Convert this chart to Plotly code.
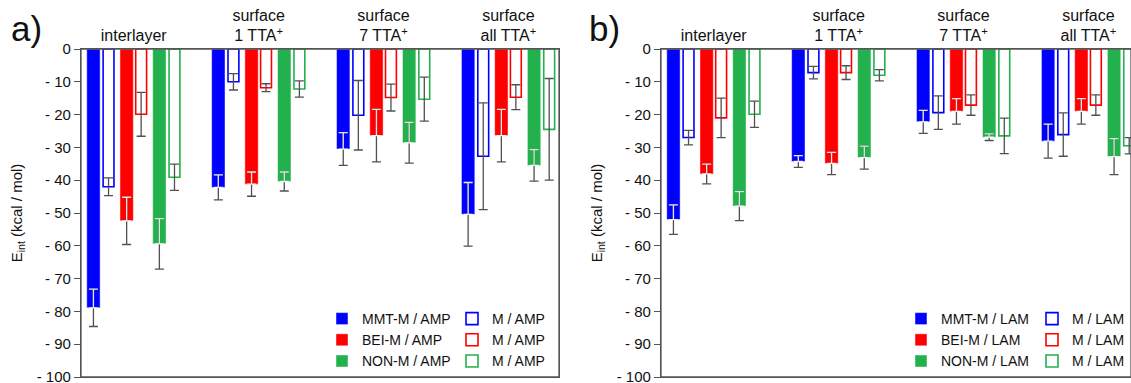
import plotly.graph_objects as go

# ---------------- data ----------------
groups = ["interlayer",
          "surface<br>1 TTA<sup>+</sup>",
          "surface<br>7 TTA<sup>+</sup>",
          "surface<br>all TTA<sup>+</sup>"]

y_tickvals = [0, -10, -20, -30, -40, -50, -60, -70, -80, -90, -100]
y_ticktext = ["0", "- 10", "- 20", "- 30", "- 40", "- 50", "- 60", "- 70", "- 80", "- 90", "- 100"]

# panel a) AMP
amp_names = ["MMT-M / AMP", "M / AMP", "BEI-M / AMP", "M / AMP", "NON-M / AMP", "M / AMP"]
mmt_amp = [-78.9, -42.2, -30.5, -50.4]
mmt_amp_err = [5.7, 3.8, 5.0, 9.7]
mmt_amp_m = [-42.0, -10.0, -20.2, -32.7]
mmt_amp_m_err = [2.7, 2.5, 10.6, 16.3]
bei_amp = [-52.4, -41.2, -26.4, -26.4]
bei_amp_err = [7.2, 3.7, 8.0, 8.0]
bei_amp_m = [-19.9, -11.8, -14.8, -14.7]
bei_amp_m_err = [6.7, 1.2, 4.1, 3.8]
non_amp = [-59.4, -40.4, -28.6, -35.5]
non_amp_err = [7.7, 2.9, 6.2, 4.8]
non_amp_m = [-39.1, -12.2, -15.3, -24.5]
non_amp_m_err = [4.0, 2.5, 6.7, 15.5]

# panel b) LAM
lam_names = ["MMT-M / LAM", "M / LAM", "BEI-M / LAM", "M / LAM", "NON-M / LAM", "M / LAM"]
mmt_lam = [-52.0, -34.3, -22.2, -28.1]
mmt_lam_err = [4.5, 1.8, 3.5, 5.2]
mmt_lam_m = [-27.0, -7.2, -19.4, -26.1]
mmt_lam_m_err = [2.2, 1.9, 5.1, 6.6]
bei_lam = [-38.1, -34.9, -19.0, -19.0]
bei_lam_err = [3.0, 3.4, 3.9, 3.9]
bei_lam_m = [-21.0, -7.2, -17.1, -17.1]
bei_lam_m_err = [6.0, 2.1, 3.1, 3.1]
non_lam = [-47.9, -33.1, -26.9, -32.8]
non_lam_err = [4.4, 3.5, 1.0, 5.5]
non_lam_m = [-19.9, -8.0, -26.5, -29.5]
non_lam_m_err = [4.0, 1.7, 5.4, 2.5]

# ---------------- style / layout ----------------
W, H = 1131, 383
COLORS = ["#0000FF", "#FF0000", "#22B14C"]
FILL_W, OPEN_W = 0.107, 0.087
FILL_OFF = [-0.376, -0.110, 0.152]
OPEN_OFF = [-0.245, 0.016, 0.283]
ERR_COLOR = "#505050"
AX_COLOR = "#555555"
FONT = "Liberation Sans, Arial, sans-serif"

fig = go.Figure()


def add_panel(series, names, xa, ya, leg_fill, leg_open):
    overlays = []
    for k in range(3):
        vals, errs, mvals, merrs = series[k]
        c = COLORS[k]
        fig.add_trace(go.Bar(
            x=groups, y=vals, name=names[2 * k], xaxis=xa, yaxis=ya,
            offset=FILL_OFF[k], width=FILL_W, legend=leg_fill,
            marker=dict(color=c, line=dict(color="rgba(255,255,255,0.45)", width=1)),
            error_y=dict(type="data", array=errs, visible=True, color=ERR_COLOR,
                         thickness=1.3, width=4.5)))
        fig.add_trace(go.Bar(
            x=groups, y=mvals, name=names[2 * k + 1], xaxis=xa, yaxis=ya,
            offset=OPEN_OFF[k], width=OPEN_W, legend=leg_open,
            marker=dict(color="rgba(255,255,255,0)", line=dict(color=c, width=1.6)),
            error_y=dict(type="data", array=merrs, visible=True, color=ERR_COLOR,
                         thickness=1.3, width=4.5)))
        overlays.append((vals, errs, k))
    # white part of the error bars inside the filled bars
    for vals, errs, k in overlays:
        fig.add_trace(go.Bar(
            x=groups, y=vals, xaxis=xa, yaxis=ya, showlegend=False, hoverinfo="skip",
            offset=FILL_OFF[k], width=FILL_W,
            marker=dict(color="rgba(0,0,0,0)", line=dict(width=0)),
            error_y=dict(type="data", symmetric=False, array=errs,
                         arrayminus=[0] * len(errs), visible=True,
                         color="rgba(255,255,255,0.85)", thickness=1.3, width=4.5)))


add_panel([(mmt_amp, mmt_amp_err, mmt_amp_m, mmt_amp_m_err),
           (bei_amp, bei_amp_err, bei_amp_m, bei_amp_m_err),
           (non_amp, non_amp_err, non_amp_m, non_amp_m_err)],
          amp_names, "x", "y", "legend", "legend2")
add_panel([(mmt_lam, mmt_lam_err, mmt_lam_m, mmt_lam_m_err),
           (bei_lam, bei_lam_err, bei_lam_m, bei_lam_m_err),
           (non_lam, non_lam_err, non_lam_m, non_lam_m_err)],
          lam_names, "x2", "y2", "legend3", "legend4")

xcommon = dict(type="category", side="top", showline=True, mirror=True,
               linecolor=AX_COLOR, linewidth=1.3, ticks="", showgrid=False,
               zeroline=False, tickfont=dict(size=16, color="#111", family=FONT),
               ticklabelstandoff=0, fixedrange=True)
ycommon = dict(range=[-100, 0], showline=True, mirror=True, linecolor=AX_COLOR,
               linewidth=1.3, ticks="outside", ticklen=6, tickcolor=AX_COLOR,
               tickwidth=1.3, showgrid=False, zeroline=False,
               tickvals=y_tickvals, ticktext=y_ticktext, ticklabeloverflow="allow",
               tickfont=dict(size=15, color="#111", family=FONT),
               title=dict(text="E<sub>int</sub> (kcal / mol)",
                          font=dict(size=15, color="#111", family=FONT), standoff=10))

px_unit = 124.9
x0 = -0.422
fig.update_layout(
    xaxis=dict(domain=[81 / W, 559 / W], range=[x0, x0 + 478 / px_unit], anchor="y", **xcommon),
    xaxis2=dict(domain=[661 / W, 1.0], range=[x0, x0 + 470 / px_unit], anchor="y2", **xcommon),
    yaxis=dict(anchor="x", **ycommon),
    yaxis2=dict(anchor="x2", **ycommon),
)

legfont = dict(size=14, color="#111", family=FONT)
legcommon = dict(font=legfont, bgcolor="rgba(0,0,0,0)", borderwidth=0,
                 xanchor="left", yanchor="top", orientation="v",
                 itemclick=False, itemdoubleclick=False)
ly = (377 - 303) / 328
fig.update_layout(
    legend=dict(x=(364 - 42) / W, y=ly, **legcommon),
    legend2=dict(x=(494 - 42) / W, y=ly, **legcommon),
    legend3=dict(x=(943 - 42) / W, y=ly, **legcommon),
    legend4=dict(x=(1074 - 42) / W, y=ly, **legcommon),
)

frame = dict(type="rect", x0=0, x1=1, y0=0, y1=1, layer="above",
             line=dict(color=AX_COLOR, width=1.3), fillcolor="rgba(0,0,0,0)")

fig.update_layout(
    width=W, height=H, barmode="overlay",
    margin=dict(l=0, r=0, t=49, b=6, autoexpand=False),
    paper_bgcolor="white", plot_bgcolor="white",
    font=dict(family=FONT, color="#111"),
    shapes=[dict(xref="x domain", yref="y domain", **frame),
            dict(xref="x2 domain", yref="y2 domain", **frame)],
    annotations=[
        dict(text="a)", x=27 / W, y=(377 - 29) / 328, xref="paper", yref="paper",
             showarrow=False, font=dict(size=35, family=FONT, color="#111"),
             xanchor="center", yanchor="middle"),
        dict(text="b)", x=604 / W, y=(377 - 29) / 328, xref="paper", yref="paper",
             showarrow=False, font=dict(size=35, family=FONT, color="#111"),
             xanchor="center", yanchor="middle"),
    ],
)

fig.write_html("out.html")
